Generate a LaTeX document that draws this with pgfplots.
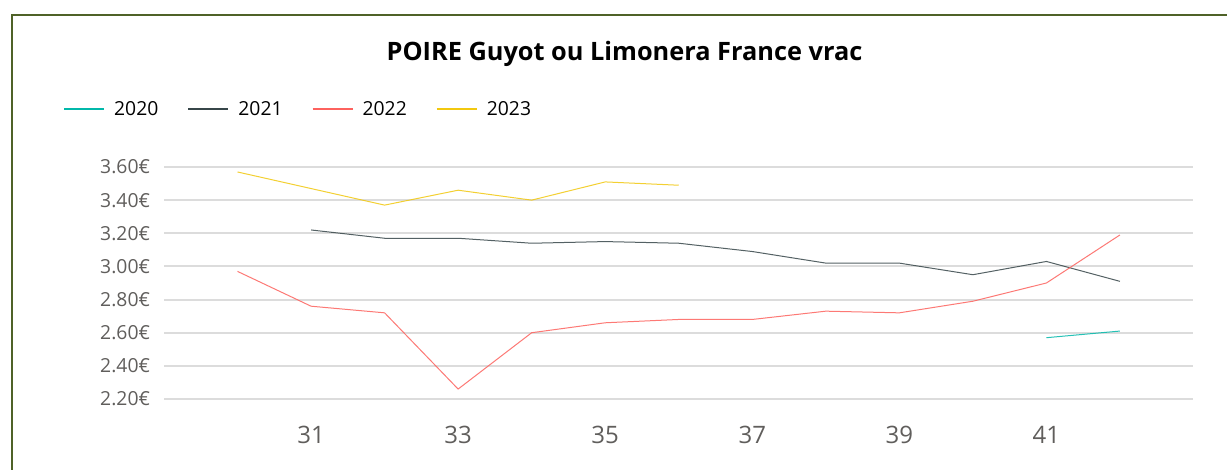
\documentclass[border=0pt]{standalone}
\usepackage{pgfplots}
\pgfplotsset{compat=1.18}
\usepackage{fontspec}
\setmainfont{Open Sans}
\definecolor{c2020}{HTML}{01B8AA}
\definecolor{c2021}{HTML}{374649}
\definecolor{c2022}{HTML}{FD625E}
\definecolor{c2023}{HTML}{F2C80F}
\definecolor{frame}{HTML}{4F6228}
\definecolor{tickgray}{HTML}{605E5C}
\definecolor{gridgray}{HTML}{DCDCDC}
\begin{document}
\begin{tikzpicture}
\useasboundingbox (0pt,0pt) rectangle (920.25pt,351.75pt);
\fill[white] (0pt,0pt) rectangle (920.25pt,351.75pt);
\draw[frame, line width=1.8pt] (9pt,340.5pt) rectangle (960pt,-30pt);
\node[anchor=base, font=\fontsize{19}{23}\selectfont\bfseries] at (468.4pt,306.75pt) {POIRE Guyot ou Limonera France vrac};
\begin{axis}[
  at={(123pt,52.5pt)}, anchor=south west,
  scale only axis,
  width=772.1pt, height=174pt,
  xmin=29, xmax=43, ymin=2.2, ymax=3.6,
  clip=false,
  axis line style={draw=none},
  major tick length=0pt,
  xtick={31,33,35,37,39,41},
  ytick={2.2,2.4,2.6,2.8,3.0,3.2,3.4,3.6},
  ymajorgrids,
  grid style={gridgray, line width=1.6pt},
  /pgf/number format/assume math mode=true,
  yticklabel={\pgfmathprintnumber[fixed,fixed zerofill,precision=2]{\tick}€},
  yticklabel style={font=\fontsize{14.5}{16}\selectfont, text=tickgray, xshift=-7pt},
  xticklabel={\pgfmathprintnumber[fixed,precision=0]{\tick}},
  xticklabel style={font=\fontsize{18}{20}\selectfont, text=tickgray, yshift=-17pt},
  legend columns=4,
  legend style={at={(-0.098,1.25)}, anchor=west, draw=none, fill=none, inner sep=0pt,
    font=\fontsize{14.5}{16}\selectfont,
    nodes={inner sep=0pt},
    /tikz/every odd column/.append style={column sep=7pt},
    /tikz/every even column/.append style={column sep=21.9pt}},
  legend image code/.code={\draw[#1, line width=1.1pt, opacity=1] (0pt,0pt) -- (30pt,0pt);},
  every axis plot/.append style={line width=0.75pt, opacity=0.85},
]
\addplot[c2020] coordinates {(41,2.57) (42,2.61)};
\addlegendentry{2020}
\addplot[c2021] coordinates {(31,3.22) (32,3.17) (33,3.17) (34,3.14) (35,3.15) (36,3.14) (37,3.09) (38,3.02) (39,3.02) (40,2.95) (41,3.03) (42,2.91)};
\addlegendentry{2021}
\addplot[c2022] coordinates {(30,2.97) (31,2.76) (32,2.72) (33,2.26) (34,2.60) (35,2.66) (36,2.68) (37,2.68) (38,2.73) (39,2.72) (40,2.79) (41,2.90) (42,3.19)};
\addlegendentry{2022}
\addplot[c2023] coordinates {(30,3.57) (31,3.47) (32,3.37) (33,3.46) (34,3.40) (35,3.51) (36,3.49)};
\addlegendentry{2023}
\end{axis}
\end{tikzpicture}
\end{document}
